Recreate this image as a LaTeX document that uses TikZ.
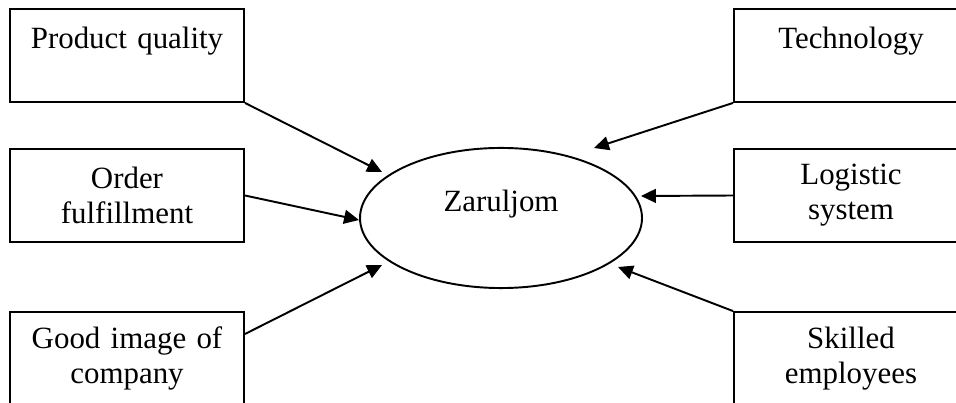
\documentclass[tikz,border=0pt]{standalone}
\usepackage{fontspec}
\setmainfont{Liberation Serif}
\usetikzlibrary{arrows.meta,shapes.geometric}
\tikzset{factor node/.style={rectangle,draw,minimum width=90.9pt,minimum height=36.1pt,inner sep=0pt,text width=88pt,align=center,font=\fontsize{12}{13.6}\selectfont},
main node/.style={ellipse,draw,minimum width=109.5pt,minimum height=54.4pt,inner sep=0pt,align=center,font=\fontsize{12}{13.6}\selectfont},
}

\begin{document}
\begin{tikzpicture}[x=0.3883pt,y=-0.3883pt,line width=0.75pt,>={Triangle[length=5.8pt,width=5.4pt]}]
	\clip (0,0) rectangle (956,403);
	\node[main node] (zaruljom) at (501,218) {Zaruljom\\~};
	\node[factor node] (quality) at (127,55.5) {Product quality\\~};
	\node[factor node] (order) at (127,195.5) {Order\\fulfillment};
	\node[factor node] (image) at (127,358.5) {Good image of\\company};
	\node[factor node] (tech) at (851,55.5) {Technology\\~};
	\node[factor node] (logistic) at (851,195.5) {Logistic\\system};
	\node[factor node] (skilled) at (851,358.5) {Skilled\\employees};
	
	% arrow tips stop short of the ellipse
	\coordinate (t1) at (382,172);
	\coordinate (t2) at (359,220);
	\coordinate (t3) at (382,265);
	\coordinate (t4) at (594,148);
	\coordinate (t5) at (641,196);
	\coordinate (t6) at (618,267);
	
	\path[every edge/.style={draw,->}]
	(quality.south east) edge (t1)
	(order.east) edge (t2)
	([yshift=-8.9pt]image.north east) edge (t3)
	(tech.south west) edge (t4)
	(logistic.west) edge (t5)
	(skilled.north west) edge (t6);
\end{tikzpicture}
\end{document}
